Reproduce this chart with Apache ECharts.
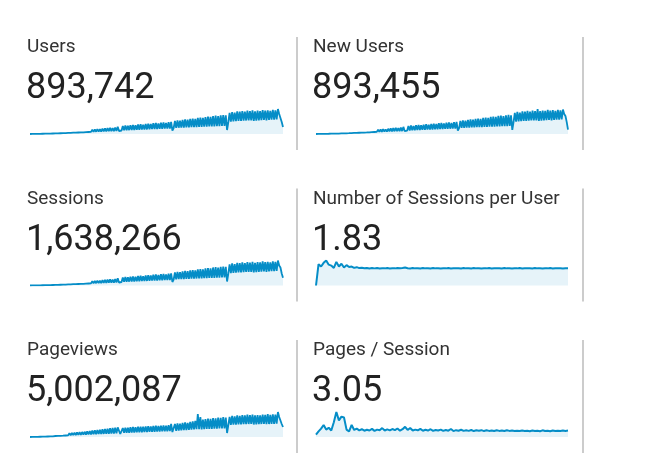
<!DOCTYPE html>
<html>
<head>
<meta charset="utf-8">
<script src="https://cdn.jsdelivr.net/npm/echarts@6/dist/echarts.min.js"></script>
<style>
  html, body { margin: 0; padding: 0; background: #fff; }
  #chart { width: 646px; height: 461px; }
</style>
</head>
<body>
<div id="chart"></div>
<script>
// metric names and headline totals
var metricNames = ["Users", "New Users", "Sessions", "Number of Sessions per User", "Pageviews", "Pages / Session"];
var metricTotals = ["893,742", "893,455", "1,638,266", "1.83", "5,002,087", "3.05"];

// values (weekday highs / weekend lows)
var users = [0,3,5,6,8,10,11,13,14,16,
  18,20,21,23,25,27,28,31,34,38,
  40,70,45,85,52,95,58,110,66,125,
  75,150,80,170,90,160,95,190,105,210,
  110,230,120,250,130,240,140,280,150,300,
  150,320,160,340,165,330,170,370,180,390,
  180,410,190,430,195,420,200,460,205,500,
  210,175,
  245,560,255,590,260,570,270,620,280,640,
  285,610,295,660,300,680,310,650,320,700,
  320,720,330,700,340,750,345,770,350,740,
  360,790,365,810,375,780,380,830,385,840,
  245,
  420,910,430,950,440,930,450,990,455,1020,
  460,1000,470,1050,480,1080,485,1060,490,1120,
  495,1150,505,1130,510,1190,520,1220,525,1200,
  530,1260,540,1280,545,1250,550,1310,560,1330,
  565,1300,280,
  840,1470,860,1540,880,1500,900,1580,910,1560,
  920,1610,935,1570,945,1640,950,1600,960,1650,
  920,1590,940,1640,955,1610,970,1680,985,1630,
  960,1660,990,1620,1000,1690,1010,1650,1020,
  1750,1400,1260,840,490];

var newUsers = [0,3,4,6,8,9,11,12,14,15,
  17,19,21,22,24,26,28,30,33,36,
  38,66,43,80,50,90,56,105,63,120,
  72,145,78,165,88,155,92,185,102,205,
  108,225,118,245,128,235,138,275,148,295,
  148,315,158,335,162,325,168,365,178,385,
  178,405,188,425,192,415,198,455,202,495,
  208,170,
  240,555,250,585,255,565,265,615,275,635,
  280,605,290,655,295,675,305,645,315,695,
  315,715,325,695,335,745,340,765,345,735,
  355,785,360,805,370,775,375,825,380,835,
  240,
  415,905,425,945,435,925,445,985,450,1015,
  455,995,465,1045,475,1075,480,1055,485,1115,
  490,1145,500,1125,505,1185,515,1215,520,1195,
  525,1255,535,1275,540,1245,545,1305,555,1325,
  560,1295,290,
  835,1465,855,1535,875,1495,895,1575,905,1555,
  915,1605,930,1565,940,1635,945,1595,955,1740,
  915,1585,935,1635,950,1605,965,1675,980,1625,
  955,1655,985,1615,995,1685,1005,1645,1015,
  1700,1390,1250,830,300];

var sessions = [0,5,9,11,15,18,20,24,26,29,
  33,37,38,42,46,49,51,57,62,70,
  73,130,82,155,95,175,106,200,120,230,
  137,275,146,310,165,293,174,348,192,385,
  200,420,220,458,238,440,256,512,275,550,
  275,585,293,622,302,604,311,677,330,714,
  330,750,348,787,357,768,366,842,375,915,
  384,320,
  448,1025,467,1080,476,1043,494,1135,512,1170,
  522,1116,540,1208,549,1244,567,1190,586,1280,
  586,1318,604,1281,622,1372,631,1410,640,1354,
  659,1446,668,1482,686,1427,695,1519,705,1537,
  450,
  768,1665,787,1738,805,1702,824,1812,833,1867,
  842,1830,860,1922,878,1976,888,1940,897,2050,
  906,2105,924,2068,933,2178,952,2233,961,2196,
  970,2306,988,2342,997,2288,1007,2397,1025,2434,
  1034,2379,510,
  1537,2690,1574,2818,1610,2745,1647,2891,1665,2855,
  1684,2946,1711,2873,1729,3001,1739,2928,1757,3020,
  1684,2910,1720,3001,1748,2946,1775,3074,1803,2983,
  1757,3038,1812,2965,1830,3093,1848,3020,1867,
  3200,2560,2300,1540,1000];

var sessionsPerUser = [0,2.3,2.05,2.45,2.7,2.25,2.15,1.9,2.55,2.05,
  2.35,1.95,2.2,2.0,2.05,1.9,1.98,1.88,1.92,1.86,
  1.9,1.84,1.88,1.85,1.89,1.84,1.87,1.85,1.88,1.84,
  1.87,1.85,1.88,1.86,1.9,1.95,1.87,1.84,1.88,1.85,
  1.87,1.84,1.88,1.85,1.87,1.84,1.88,1.85,1.87,1.84,
  1.87,1.85,1.88,1.84,1.87,1.85,1.86,1.84,1.88,1.85,
  1.87,1.84,1.88,1.85,1.87,1.84,1.86,1.85,1.88,1.84,
  1.87,1.85,1.87,1.84,1.88,1.85,1.86,1.84,1.87,1.85,
  1.88,1.84,1.87,1.85,1.86,1.84,1.88,1.85,1.87,1.84,
  1.87,1.85,1.88,1.84,1.87,1.85,1.86,1.84,1.87,1.86];

var pageviews = [0,15,20,30,40,50,60,75,90,110,
  120,170,150,230,190,300,230,380,270,460,
  380,650,420,780,460,900,500,1030,570,1140,
  610,1440,650,1520,720,1600,760,1710,800,1820,
  840,1900,880,2000,910,2130,950,2280,990,2430,
  1030,2550,1060,2700,1100,2800,1140,2960,1180,3080,
  1220,3190,1250,3310,1290,3420,1330,3530,1370,3650,
  3800,1140,
  1520,3420,1560,3570,1600,3500,1640,3700,1670,3800,
  1710,3720,1750,3880,1790,3950,1820,3880,1860,4030,
  1900,4100,1940,4030,1980,4180,2010,4260,2050,4180,
  2090,4330,2130,4410,2170,4330,2200,4480,2240,4940,
  1900,
  2280,4940,2360,5130,2430,5020,2510,5320,2580,5510,
  2660,5400,2740,5700,2810,5890,2890,6080,2960,8740,
  2960,7600,2890,6650,2960,6840,3040,7030,3080,6920,
  3120,7220,3160,7100,3200,7410,3230,7300,3270,7600,
  3310,7410,1520,
  4560,7600,4640,7980,4710,7790,4750,8170,4790,8000,
  4830,8360,4860,8170,4900,8550,4940,8280,4980,8470,
  4750,8170,4830,8360,4900,8210,4940,8550,4980,8400,
  4900,8740,4940,8360,4980,8620,5020,8470,5060,
  9500,7600,6840,4940,3800];

var pagesPerSession = [1.25,3.0,4.5,6.5,4.0,5.0,3.5,8.0,13.5,9.0,
  11.0,10.5,4.0,3.0,6.5,3.8,4.5,3.6,4.2,3.4,
  3.9,3.5,4.4,3.3,4.0,3.6,4.8,3.5,4.1,3.6,
  4.3,3.7,4.6,3.4,4.2,5.5,3.8,4.9,3.5,4.0,
  3.6,4.4,3.4,3.9,3.5,4.2,3.3,3.8,3.5,4.0,
  3.3,3.8,3.4,4.3,3.2,3.7,3.4,3.9,3.3,3.6,
  3.3,3.8,3.2,3.6,3.4,3.7,3.2,3.6,3.3,3.5,
  3.2,3.6,3.3,3.5,3.2,3.6,3.3,3.5,3.2,3.4,
  3.2,3.5,3.3,3.4,3.1,3.5,3.2,3.4,3.1,3.6,
  3.2,3.4,3.1,3.5,3.2,3.4,3.2,3.5,3.3,3.5];

var metricData = [users, newUsers, sessions, sessionsPerUser, pageviews, pagesPerSession];
var strokeWidth = [1.8, 1.8, 1.8, 2.0, 1.8, 2.0];

var chart = echarts.init(document.getElementById("chart"), null, { renderer: "canvas" });

var textLeft = [27, 313];
var lineLeft = [30, 316];
var lineWidth = [253, 252];
var dividerX = [296, 582];
var rowStep = 151.5;

var grids = [], xAxes = [], yAxes = [], series = [], graphics = [];

for (var i = 0; i < metricData.length; i++) {
  var col = i % 2;
  var row = Math.floor(i / 2);
  var dy = row * rowStep;

  grids.push({
    left: lineLeft[col],
    top: 109 + dy,
    width: lineWidth[col],
    height: 25
  });
  xAxes.push({
    gridIndex: i,
    type: "category",
    boundaryGap: false,
    show: false
  });
  yAxes.push({
    gridIndex: i,
    type: "value",
    min: 0,
    max: "dataMax",
    show: false
  });
  series.push({
    type: "line",
    xAxisIndex: i,
    yAxisIndex: i,
    data: metricData[i],
    symbol: "none",
    silent: true,
    animation: false,
    sampling: null,
    lineStyle: { color: "#058dc7", width: strokeWidth[i], join: "bevel" },
    areaStyle: { color: "#e6f3f9", opacity: 1 }
  });

  graphics.push({
    type: "text",
    left: textLeft[col],
    top: 38 + dy,
    style: { text: metricNames[i], fill: "#333333", font: "19px Roboto" }
  });
  graphics.push({
    type: "text",
    left: textLeft[col] - 1,
    top: 71 + dy,
    style: { text: metricTotals[i], fill: "#222222", font: "36px Roboto" }
  });
  graphics.push({
    type: "rect",
    left: dividerX[col],
    top: 37 + dy,
    shape: { width: 2, height: 113 },
    style: { fill: "#cccccc" }
  });
}

chart.setOption({
  backgroundColor: "#ffffff",
  animation: false,
  grid: grids,
  xAxis: xAxes,
  yAxis: yAxes,
  series: series,
  graphic: graphics
});
</script>
</body>
</html>
